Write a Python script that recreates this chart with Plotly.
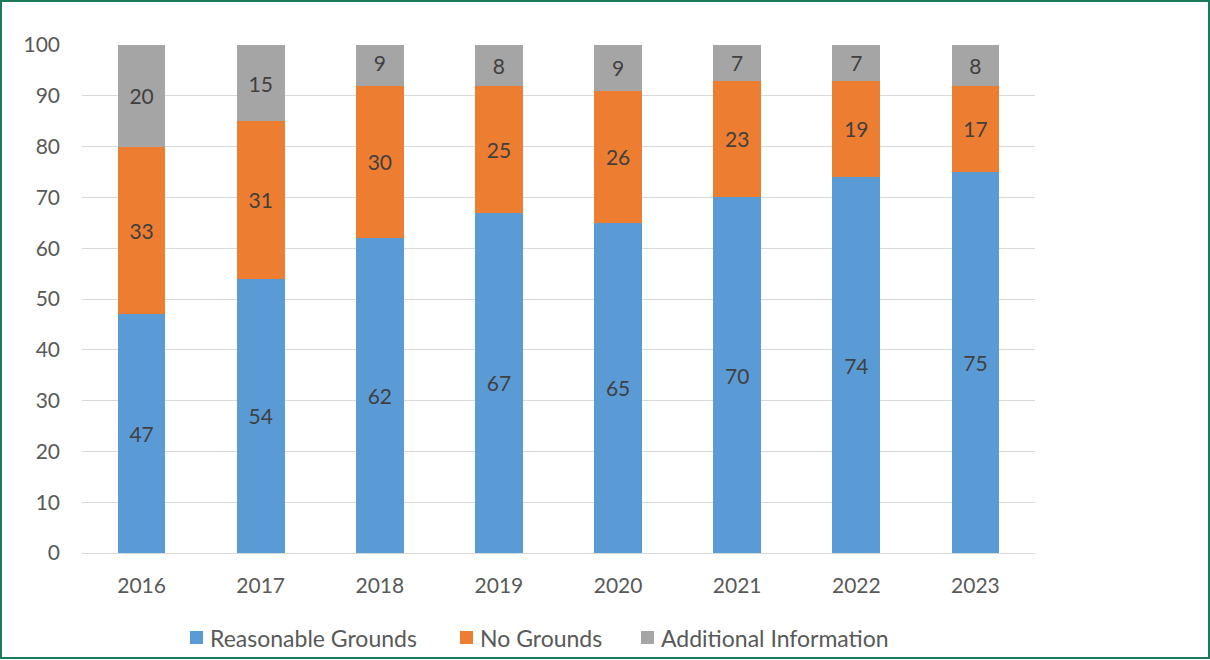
import plotly.graph_objects as go

years = ["2016", "2017", "2018", "2019", "2020", "2021", "2022", "2023"]
reasonable_grounds = [47, 54, 62, 67, 65, 70, 74, 75]
no_grounds = [33, 31, 30, 25, 26, 23, 19, 17]
additional_info = [20, 15, 9, 8, 9, 7, 7, 8]
y_ticks = [0, 10, 20, 30, 40, 50, 60, 70, 80, 90, 100]

W, H = 1210, 660
ML, MR, MT, MB = 82, 175, 45, 107
FONT = "Lato, Carlito, Calibri, sans-serif"
TXT = "#595959"

series = [
    ("Reasonable Grounds", reasonable_grounds, "#5B9BD5"),
    ("No Grounds", no_grounds, "#ED7D31"),
    ("Additional Information", additional_info, "#A5A5A5"),
]
# legend entries: left edge of the swatch, in pixels from the figure's left edge
legend_x = [190, 460, 641]

fig = go.Figure()
for name, vals, color in series:
    fig.add_trace(go.Bar(
        x=years, y=vals, name=name, showlegend=False,
        marker=dict(color=color, line=dict(width=0)),
        text=vals, textposition="inside", insidetextanchor="middle",
        textfont=dict(family=FONT, size=21, color="#404040"),
        constraintext="none",
    ))

pw, ph = W - ML - MR, H - MT - MB


def px_x(x):
    return (x - ML) / pw


def px_y(y):
    return (H - MB - y) / ph


# Legend drawn as swatches plus labels
for (name, _, color), lx in zip(series, legend_x):
    fig.add_shape(
        type="rect", xref="paper", yref="paper",
        x0=px_x(lx), x1=px_x(lx + 13), y0=px_y(631), y1=px_y(644),
        fillcolor=color, line=dict(width=0),
    )
    fig.add_annotation(
        xref="paper", yref="paper", x=px_x(lx + 18), y=px_y(637.5),
        xanchor="left", yanchor="middle", showarrow=False, text=name,
        font=dict(family=FONT, size=23, color=TXT),
    )

fig.update_layout(
    barmode="stack",
    bargap=0.6,
    width=W, height=H,
    autosize=False,
    margin=dict(l=ML, r=MR, t=MT, b=MB),
    paper_bgcolor="white",
    plot_bgcolor="white",
    font=dict(family=FONT, color=TXT),
    xaxis=dict(
        showgrid=False, showline=False, ticks="",
        tickfont=dict(family=FONT, size=21, color=TXT),
        ticklabelstandoff=18,
    ),
    yaxis=dict(
        range=[0, 100], tickvals=y_ticks,
        showgrid=True, gridcolor="#D9D9D9", gridwidth=1,
        zeroline=True, zerolinecolor="#D9D9D9", zerolinewidth=1,
        showline=False, ticks="",
        tickfont=dict(family=FONT, size=21, color=TXT),
        ticklabelstandoff=21,
    ),
)

# Frame around the whole figure
fig.add_shape(
    type="rect", xref="paper", yref="paper",
    x0=px_x(1), x1=px_x(W - 1), y0=px_y(H - 2), y1=px_y(1),
    line=dict(color="#1B7A5C", width=2), fillcolor="rgba(0,0,0,0)",
    layer="below",
)

fig.write_html("out.html", config={"responsive": False})
